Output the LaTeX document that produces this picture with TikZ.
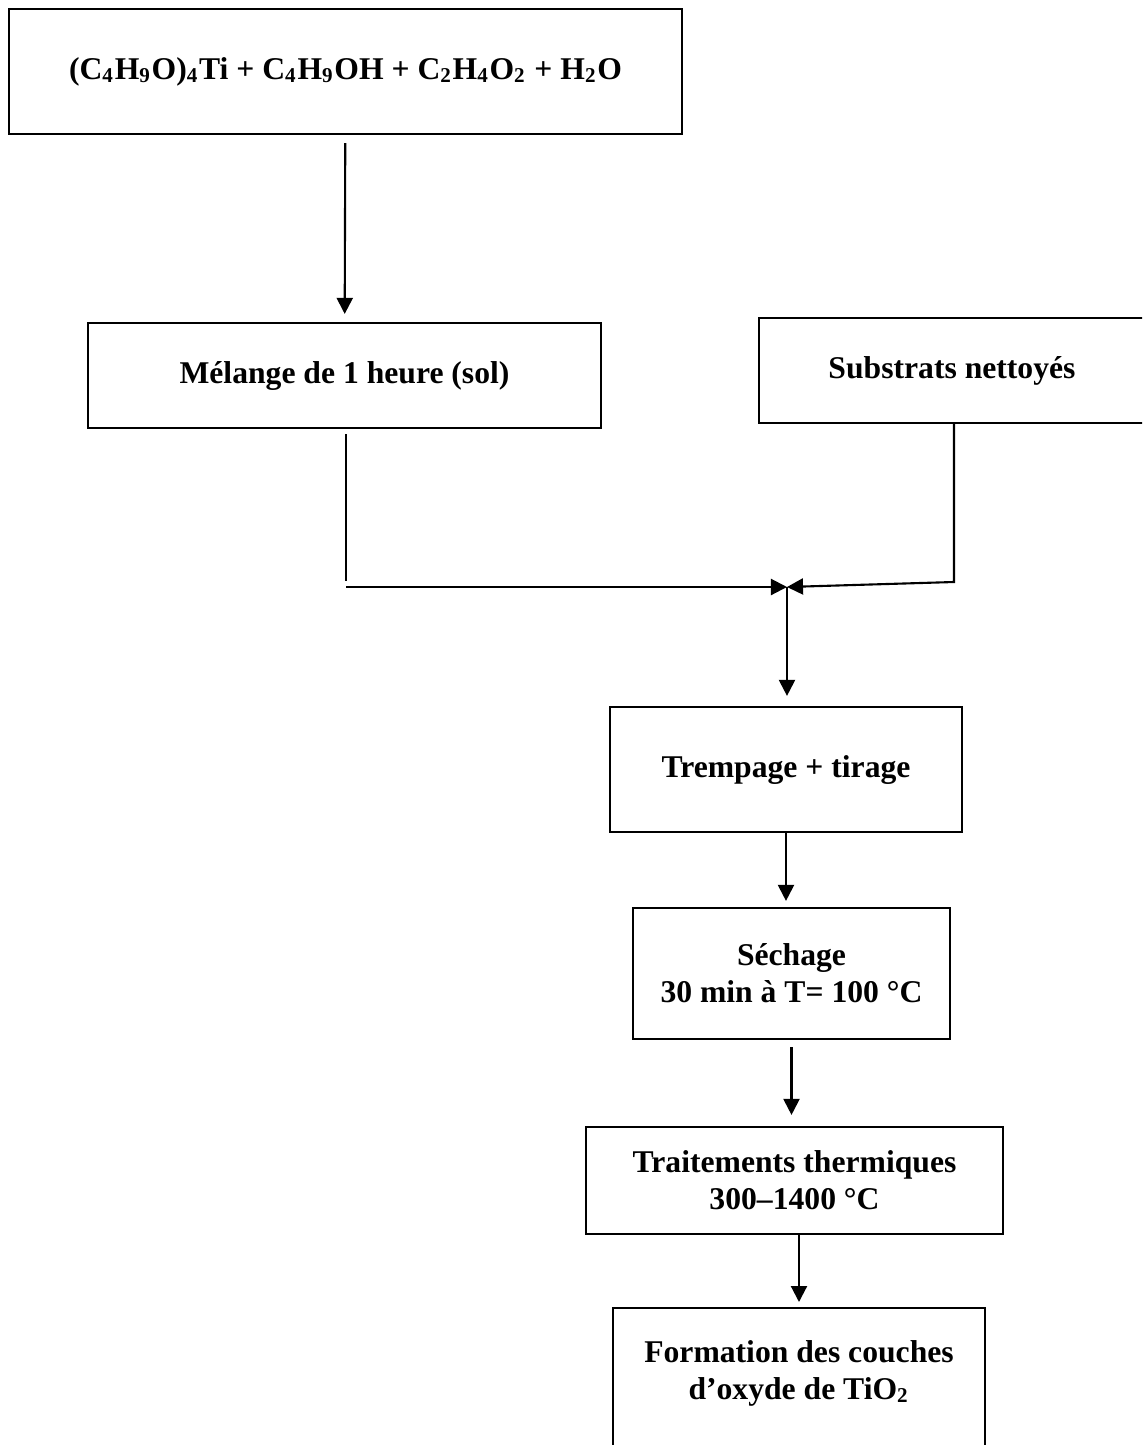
\documentclass[tikz,border=0pt]{standalone}
\usepackage{fontspec}
\setmainfont{Liberation Serif}
\usetikzlibrary{arrows.meta}
\tikzset{box/.style={draw, rectangle, align=center, inner sep=0pt, font=\fontsize{9}{10.5}\selectfont\bfseries},
         flow/.style={-{Triangle[length=1.6mm,width=1.6mm]}}}

\begin{document}
\begin{tikzpicture}[x=0.01cm,y=-0.01cm,line width=0.6pt]
   \useasboundingbox (0,0) rectangle (1142,1445);
   \clip (0,0) rectangle (1142,1445);
   \node[box, minimum width=6.73cm, minimum height=1.25cm] (reac)  at (345.5,  71.5)
     {(C\textsubscript{4}H\textsubscript{9}O)\textsubscript{4}Ti + C\textsubscript{4}H\textsubscript{9}OH + C\textsubscript{2}H\textsubscript{4}O\textsubscript{2} + H\textsubscript{2}O};
   \node[box, minimum width=5.13cm, minimum height=1.05cm] (mel)   at (344.5, 375.5) {Mélange de 1 heure (sol)};
   \node[box, minimum width=3.86cm, minimum height=1.05cm] (sub)   at (952.0, 370.5) {Substrats nettoyés};
   \node[box, minimum width=3.52cm, minimum height=1.25cm] (tremp) at (786.0, 769.5) {Trempage + tirage};
   \node[box, minimum width=3.17cm, minimum height=1.31cm] (sech)  at (791.5, 973.5) {Séchage\\30 min à T= 100 °C};
   \node[box, minimum width=4.17cm, minimum height=1.07cm] (trait) at (794.5,1180.5) {Traitements thermiques\\300–1400 °C};
   \node[box, minimum width=3.72cm, minimum height=1.80cm, anchor=north] (form) at (799.0,1307.0) {};
   \node[box, draw=none] (formtxt) at (799.0,1373.0) {Formation des couches\\d’oxyde de TiO\textsubscript{2}};

   \coordinate (melfoot) at (346,581);
   \coordinate (melturn) at (346,587);
   \coordinate (join)    at (787,587);
   \coordinate (subturn) at (954,582);

   \draw[flow, shorten <=0.08cm, shorten >=0.08cm] (reac) -- (mel);
   \draw[shorten <=0.05cm] (mel.south -| melfoot) -- (melfoot);
   \draw[flow] (melturn) -- (join);
   \draw[flow] (sub.south -| subturn) -- (subturn) -- (join);
   \draw[flow, shorten >=0.10cm] (join) -- (join |- tremp.north);
   \draw[flow, shorten >=0.06cm] (tremp.south) -- (tremp.south |- sech.north);
   \draw[flow, shorten <=0.07cm, shorten >=0.11cm] (sech.south) -- (sech.south |- trait.north);
   \draw[flow, shorten >=0.05cm] (trait.south -| form.north) -- (form.north);
\end{tikzpicture}
\end{document}
